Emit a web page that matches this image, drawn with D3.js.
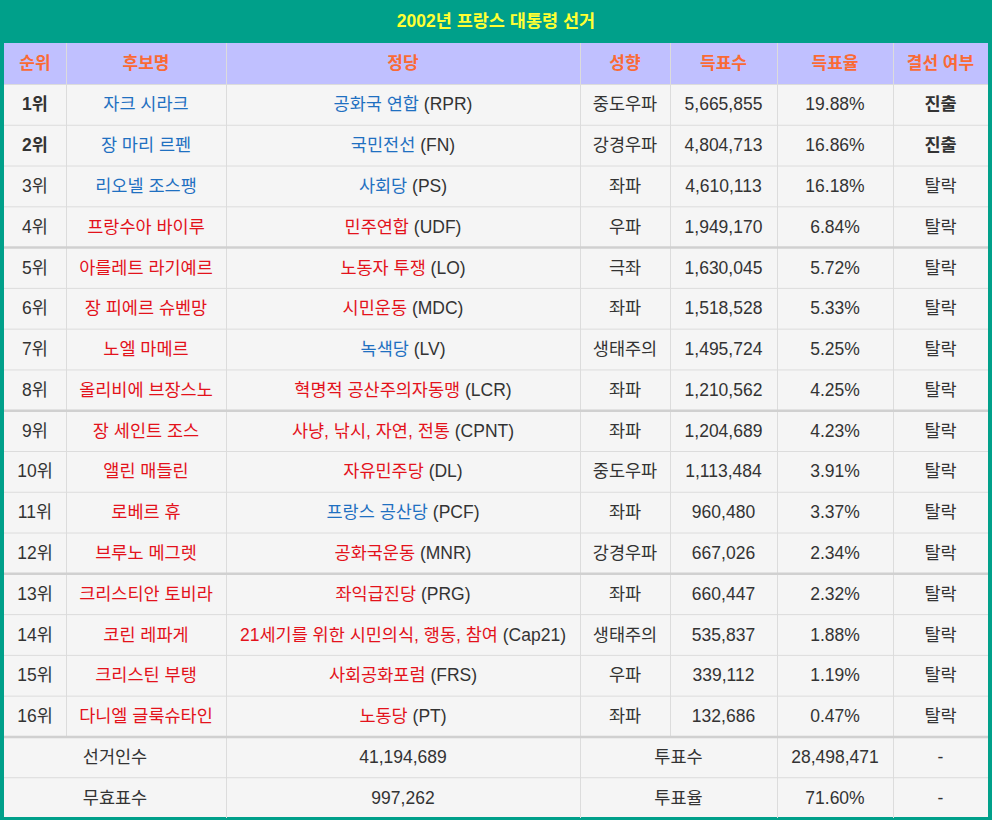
<!DOCTYPE html>
<html><head><meta charset="utf-8">
<script src="https://cdn.jsdelivr.net/npm/d3@7"></script>
<style>
html,body{margin:0;padding:0;background:#fff;}
svg text{font-family:"Liberation Sans","Noto Sans CJK KR",Arial,sans-serif;}
</style></head>
<body><svg id="c" width="992" height="820"></svg>
<script>
const title = "2002년 프랑스 대통령 선거";
const headers = ["순위","후보명","정당","성향","득표수","득표율","결선 여부"];
const ranks = ["1위","2위","3위","4위","5위","6위","7위","8위","9위","10위","11위","12위","13위","14위","15위","16위"];
const candidates = ["자크 시라크","장 마리 르펜","리오넬 조스팽","프랑수아 바이루","아를레트 라기예르","장 피에르 슈벤망","노엘 마메르","올리비에 브장스노","장 세인트 조스","앨린 매들린","로베르 휴","브루노 메그렛","크리스티안 토비라","코린 레파게","크리스틴 부탱","다니엘 글룩슈타인"];
const candidateBlue = [1,1,1,0,0,0,0,0,0,0,0,0,0,0,0,0];
const parties = ["공화국 연합","국민전선","사회당","민주연합","노동자 투쟁","시민운동","녹색당","혁명적 공산주의자동맹","사냥, 낚시, 자연, 전통","자유민주당","프랑스 공산당","공화국운동","좌익급진당","21세기를 위한 시민의식, 행동, 참여","사회공화포럼","노동당"];
const partyAbbr = ["RPR","FN","PS","UDF","LO","MDC","LV","LCR","CPNT","DL","PCF","MNR","PRG","Cap21","FRS","PT"];
const partyBlue = [1,1,1,0,0,0,1,0,0,0,1,0,0,0,0,0];
const leanings = ["중도우파","강경우파","좌파","우파","극좌","좌파","생태주의","좌파","좌파","중도우파","좌파","강경우파","좌파","생태주의","우파","좌파"];
const votes = [5665855,4804713,4610113,1949170,1630045,1518528,1495724,1210562,1204689,1113484,960480,667026,660447,535837,339112,132686];
const shares = [19.88,16.86,16.18,6.84,5.72,5.33,5.25,4.25,4.23,3.91,3.37,2.34,2.32,1.88,1.19,0.47];
const runoff = ["진출","진출","탈락","탈락","탈락","탈락","탈락","탈락","탈락","탈락","탈락","탈락","탈락","탈락","탈락","탈락"];
const footerLabels = ["선거인수","무효표수"];
const footerValues = ["41,194,689","997,262"];
const footerLabels2 = ["투표수","투표율"];
const footerValues2 = ["28,498,471","71.60%"];
const footerDash = ["-","-"];

const W = 992, H = 820;
const teal = "#00a08a", blue = "#1f70c1", red = "#e3121b", txt = "#333";
const colEdges = [4,66,226,580,670,777,893,988];
const svg = d3.select("#c");

svg.append("rect").attr("x",0).attr("y",0).attr("width",W).attr("height",H).attr("fill",teal);
svg.append("rect").attr("x",4).attr("y",43).attr("width",984).attr("height",774).attr("fill","#f5f5f5");
svg.append("text").attr("x",W/2).attr("y",21).attr("text-anchor","middle").attr("dominant-baseline","central")
  .attr("font-size",17.5).attr("font-weight","bold").attr("fill","#ffff33").text(title);

const rowKeys = ranks.map((d,i)=>"r"+i).concat(["f0","f1"]);
const y = d3.scaleBand().domain(rowKeys).range([84,818]).paddingInner(0).paddingOuter(0);
const headTop = 43, headH = 41;
const cx = i => (colEdges[i]+colEdges[i+1])/2;

svg.append("rect").attr("x",4).attr("y",headTop).attr("width",984).attr("height",headH).attr("fill","#c0c0ff");
headers.forEach((h,i)=>{
  svg.append("text").attr("x",cx(i)).attr("y",headTop+headH/2).attr("text-anchor","middle").attr("dominant-baseline","central")
    .attr("font-size",17).attr("font-weight","bold").attr("fill","#fa6a35").text(h);
});

const g = svg.append("g");
colEdges.slice(1,-1).forEach(x=>{
  g.append("line").attr("x1",x+0.5).attr("x2",x+0.5).attr("y1",headTop).attr("y2",y("f0"))
   .attr("stroke","#dcdcdc").attr("stroke-width",1);
});
[226,580,777,893].forEach(x=>{
  g.append("line").attr("x1",x+0.5).attr("x2",x+0.5).attr("y1",y("f0")).attr("y2",818).attr("stroke","#dcdcdc");
});
rowKeys.forEach(k=>{
  const yy = y(k);
  const thick = (k==="f0"||k==="r4"||k==="r8"||k==="r12");
  g.append("line").attr("x1",4).attr("x2",988).attr("y1",yy+0.5).attr("y2",yy+0.5)
   .attr("stroke", thick?"#d0d0d0":"#dcdcdc").attr("stroke-width", thick?2.5:1);
});

const fmt = d3.format(",");
const fs = 17.5;
function cell(col,key,text,color,bold){
  return svg.append("text").attr("x",cx(col)).attr("y",y(key)+y.bandwidth()/2)
    .attr("text-anchor","middle").attr("dominant-baseline","central")
    .attr("font-size",fs).attr("fill",color||txt).attr("font-weight",bold?"bold":"normal").text(text);
}
ranks.forEach((r,i)=>{
  const k = "r"+i;
  cell(0,k,r,txt,i<2);
  cell(1,k,candidates[i],candidateBlue[i]?blue:red);
  const t = svg.append("text").attr("x",cx(2)).attr("y",y(k)+y.bandwidth()/2)
    .attr("text-anchor","middle").attr("dominant-baseline","central").attr("font-size",fs);
  t.append("tspan").attr("fill",partyBlue[i]?blue:red).text(parties[i]);
  t.append("tspan").attr("fill",txt).text(" ("+partyAbbr[i]+")");
  cell(3,k,leanings[i]);
  cell(4,k,fmt(votes[i]));
  cell(5,k,shares[i].toFixed(2)+"%");
  cell(6,k,runoff[i],txt,runoff[i]==="진출");
});
["f0","f1"].forEach((k,i)=>{
  const yy = y(k)+y.bandwidth()/2;
  const add=(x,t)=>svg.append("text").attr("x",x).attr("y",yy).attr("text-anchor","middle").attr("dominant-baseline","central")
    .attr("font-size",fs).attr("fill",txt).text(t);
  add((4+226)/2,footerLabels[i]);
  add(cx(2),footerValues[i]);
  add((580+777)/2,footerLabels2[i]);
  add(cx(5),footerValues2[i]);
  add(cx(6),footerDash[i]);
});
</script></body></html>
